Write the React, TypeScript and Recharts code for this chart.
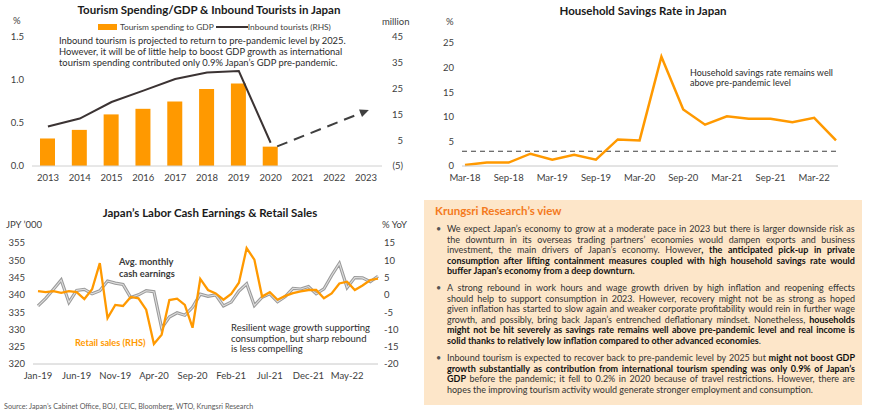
import React from 'react';
import { ComposedChart, LineChart, Bar, Line, XAxis, YAxis, ReferenceLine } from 'recharts';

const FONT = 'Lato, "Open Sans", sans-serif';
const ORANGE = '#ff9900';
const DARK_LINE = '#3b3333';
const TICK = '#404040';
const TEXT = '#2b2b2b';

// Tourism spending / GDP and inbound tourists
const YEARS = ['2013', '2014', '2015', '2016', '2017', '2018', '2019', '2020', '2021', '2022', '2023'];
const GDP_SHARE = [0.32, 0.42, 0.6, 0.665, 0.75, 0.895, 0.96, 0.225, null, null, null];
const INBOUND = [10.3, 13.4, 19.8, 24.2, 28.7, 31.2, 31.8, 4.0, null, null, null];
const OUTLOOK = [null, null, null, null, null, null, null, 1.6, null, null, 16.3];
const LEFT_TICKS_T = [0, 0.5, 1, 1.5];
const RIGHT_TICKS_T = [-5, 5, 15, 25, 35, 45];

// Household savings rate (quarterly)
const QUARTERS = ['Mar-18', 'Jun-18', 'Sep-18', 'Dec-18', 'Mar-19', 'Jun-19', 'Sep-19', 'Dec-19', 'Mar-20',
  'Jun-20', 'Sep-20', 'Dec-20', 'Mar-21', 'Jun-21', 'Sep-21', 'Dec-21', 'Mar-22', 'Jun-22'];
const SAVINGS = [0.2, 0.7, 0.7, 2.5, 1.3, 2.3, 1.3, 5.4, 5.2, 22.2, 11.5, 8.4, 10.1, 9.6, 9.6, 8.9, 9.8, 5.2];
const PRE_PANDEMIC = 3.0;
const SAVINGS_TICKS = [0, 5, 10, 15, 20, 25];

// Labor cash earnings and retail sales (monthly)
const MONTHS = ['Jan-19', 'Feb-19', 'Mar-19', 'Apr-19', 'May-19', 'Jun-19', 'Jul-19', 'Aug-19', 'Sep-19', 'Oct-19',
  'Nov-19', 'Dec-19', 'Jan-20', 'Feb-20', 'Mar-20', 'Apr-20', 'May-20', 'Jun-20', 'Jul-20', 'Aug-20', 'Sep-20',
  'Oct-20', 'Nov-20', 'Dec-20', 'Jan-21', 'Feb-21', 'Mar-21', 'Apr-21', 'May-21', 'Jun-21', 'Jul-21', 'Aug-21',
  'Sep-21', 'Oct-21', 'Nov-21', 'Dec-21', 'Jan-22', 'Feb-22', 'Mar-22', 'Apr-22', 'May-22', 'Jun-22', 'Jul-22',
  'Aug-22', 'Sep-22'];
const EARNINGS = [336.8, 339, 341.6, 344.3, 337.8, 341.3, 341.6, 340.3, 341.2, 344, 343.4, 343, 339.2, 340,
  341.2, 340.9, 330.4, 333.6, 334.8, 334.1, 336.4, 340.2, 339.6, 340, 336.8, 337.9, 341.1, 343.2, 336.9, 339.3,
  340.3, 338, 339.5, 341.9, 341.7, 342.4, 340.3, 341.7, 345.6, 349.1, 342.1, 345, 344.9, 343.8, 345.4];
const RETAIL = [1.1, 0.8, 1.1, 0.6, 1.1, 0.8, -1.2, 1.6, 9.2, -6.7, -2.9, -3.2, -0.6, -1.0, -4.3, -14.2, -11.5,
  -1.5, -1.1, -2.9, -9.5, 4.6, 1.4, 0.4, -1.4, 0.3, 3.5, 13.5, 10.2, -0.5, 0.8, -1.4, -0.3, 0.5, 1.0, 1.4, 1.4,
  -1.0, 0.4, 3.3, 3.8, 1.4, 2.7, 4.3, 4.7];
const EARN_TICKS = [320, 325, 330, 335, 340, 345, 350, 355];
const RETAIL_TICKS = [-20, -15, -10, -5, 0, 5, 10, 15];

const tourismData = YEARS.map((year, i) => ({
  year, gdp: GDP_SHARE[i], inbound: INBOUND[i], outlook: OUTLOOK[i],
}));
const savingsData = QUARTERS.map((q, i) => ({ q, rate: SAVINGS[i] }));
const laborData = MONTHS.map((m, i) => ({ m, earn: EARNINGS[i], retail: RETAIL[i] }));

type Seg = [string, boolean];
const VIEW: Seg[][][] = [
  [
    [["We expect Japan’s economy to grow at a moderate pace in 2023 but there is larger downside risk as", false]],
    [["the downturn in its overseas trading partners’ economies would dampen exports and business", false]],
    [["investment, the main drivers of Japan’s economy. However", false], [", the anticipated pick-up in private", true]],
    [["consumption after lifting containment measures coupled with high household savings rate would", true]],
    [["buffer Japan’s economy from a deep downturn.", true]],
  ],
  [
    [["A strong rebound in work hours and wage growth driven by high inflation and reopening effects", false]],
    [["should help to support consumption in 2023. However, recovery might not be as strong as hoped", false]],
    [["given inflation has started to slow again and weaker corporate profitability would rein in further wage", false]],
    [["growth, and possibly, bring back Japan’s entrenched deflationary mindset. Nonetheless, ", false], ["households", true]],
    [["might not be hit severely as savings rate remains well above pre-pandemic level and real income is", true]],
    [["solid thanks to relatively low inflation compared to other advanced economies", true], [".", false]],
  ],
  [
    [["Inbound tourism is expected to recover back to pre-pandemic level by 2025 but ", false], ["might not boost GDP", true]],
    [["growth substantially as contribution from international tourism spending was only 0.9% of Japan’s", true]],
    [["GDP", true], [" before the pandemic; it fell to 0.2% in 2020 because of travel restrictions. However, there are", false]],
    [["hopes the improving tourism activity would generate stronger employment and consumption.", false]],
  ],
];

function toWords(line: Seg[]): Seg[][] {
  const words: Seg[][] = [];
  let cur: Seg[] = [];
  line.forEach(([text, bold]) => {
    text.split(' ').forEach((p, i) => {
      if (i > 0) {
        if (cur.length) words.push(cur);
        cur = [];
      }
      if (p) cur.push([p, bold]);
    });
  });
  if (cur.length) words.push(cur);
  return words;
}

const tickStyle = { fill: TICK, fontSize: 9.5, fontFamily: FONT };

const TourRightTick = ({ x, y, payload }: any) => (
  <text x={x + 13} y={y} dy="0.35em" textAnchor="end" {...tickStyle}>
    {payload.value < 0 ? `(${-payload.value})` : payload.value}
  </text>
);

const ArrowDot = (props: any) => {
  const { cx, cy, index, points } = props;
  if (index !== YEARS.length - 1 || cx == null || cy == null) return <g key={`d${index}`} />;
  let a = -0.38;
  if (Array.isArray(points)) {
    const prev = points.slice(0, index).reverse().find((p: any) => p && p.y != null && p.value != null);
    if (prev) a = Math.atan2(cy - prev.y, cx - prev.x);
  }
  const c = Math.cos(a), s = Math.sin(a);
  const tx = cx + 3 * c, ty = cy + 3 * s;
  const bx = tx - 9 * c, by = ty - 9 * s;
  const px = -s * 4, py = c * 4;
  return (
    <polygon key={`d${index}`} points={`${tx},${ty} ${bx + px},${by + py} ${bx - px},${by - py}`} fill="#3f3f3f" />
  );
};

const Txt = ({ x, y, children, style }: any) => (
  <div style={{ position: 'absolute', left: x, top: y - 6, lineHeight: '12px', whiteSpace: 'nowrap', ...style }}>
    {children}
  </div>
);

const Title = ({ cx, y, children }: any) => (
  <div style={{ position: 'absolute', left: cx, top: y - 7, transform: 'translateX(-50%)', lineHeight: '14px',
    whiteSpace: 'nowrap', fontWeight: 700, fontSize: 11.5, color: '#1a1a1a' }}>
    {children}
  </div>
);

export default function App() {
  const note = { fontSize: 9, color: TEXT };
  return (
    <div style={{ position: 'absolute', left: 0, top: 0, width: 870, height: 416, background: '#fff',
      overflow: 'hidden', fontFamily: FONT }}>
      {/* Tourism chart */}
      <div style={{ position: 'absolute', left: 0, top: 0 }}>
        <ComposedChart width={430} height={185} data={tourismData} margin={{ top: 37, right: 0, bottom: 0, left: 0 }}>
          <XAxis dataKey="year" height={19} tickLine={false} axisLine={{ stroke: '#d0d0d0' }} tick={tickStyle} interval={0} />
          <YAxis yAxisId="l" width={32} domain={[0, 1.5]} ticks={LEFT_TICKS_T} interval={0}
            tickFormatter={(v: number) => v.toFixed(1)} axisLine={false} tickLine={false} tick={tickStyle} />
          <YAxis yAxisId="r" orientation="right" width={48} domain={[-5, 45]} ticks={RIGHT_TICKS_T} interval={0}
            axisLine={false} tickLine={false} tick={<TourRightTick />} />
          <Bar yAxisId="l" dataKey="gdp" fill={ORANGE} barSize={15} isAnimationActive={false} />
          <Line yAxisId="r" dataKey="inbound" stroke={DARK_LINE} strokeWidth={2} dot={false} isAnimationActive={false} />
          <Line yAxisId="r" dataKey="outlook" stroke="#3f3f3f" strokeWidth={2} strokeDasharray="11 7" strokeDashoffset={11}
            connectNulls dot={ArrowDot} legendType="none" isAnimationActive={false} />
        </ComposedChart>
      </div>
      <Title cx={209} y={10}>Tourism Spending/GDP &amp; Inbound Tourists in Japan</Title>
      <Txt x={13} y={21} style={{ fontSize: 9.5, color: TICK }}>%</Txt>
      <Txt x={382} y={22} style={{ fontSize: 9.5, color: TICK }}>million</Txt>
      <div style={{ position: 'absolute', left: 98, top: 21, height: 12, display: 'flex', alignItems: 'center',
        fontSize: 8.4, color: TICK, whiteSpace: 'nowrap' }}>
        <span style={{ width: 19, height: 6, background: ORANGE, marginRight: 3 }} />
        <span>Tourism spending to GDP</span>
        <span style={{ width: 32, height: 2, background: DARK_LINE, marginLeft: 2 }} />
        <span>Inbound tourists (RHS)</span>
      </div>
      <Txt x={59} y={41} style={{ fontSize: 9.4, color: TEXT }}>Inbound tourism is projected to return to pre-pandemic level by 2025.</Txt>
      <Txt x={59} y={52} style={{ fontSize: 9.4, color: TEXT }}>However, it will be of little help to boost GDP growth as international</Txt>
      <Txt x={59} y={63} style={{ fontSize: 9.4, color: TEXT }}>tourism spending contributed only 0.9% Japan’s GDP pre-pandemic.</Txt>

      {/* Household savings chart */}
      <div style={{ position: 'absolute', left: 430, top: 0 }}>
        <LineChart width={440} height={185} data={savingsData} margin={{ top: 43, right: 32, bottom: 0, left: 0 }}>
          <XAxis dataKey="q" height={19} tickLine={false} axisLine={{ stroke: '#c8c8c8' }} tick={tickStyle}
            interval={1} padding={{ left: 3, right: 2 }} />
          <YAxis width={32} domain={[0, 25]} ticks={SAVINGS_TICKS} interval={0}
            axisLine={false} tickLine={false} tick={tickStyle} />
          <ReferenceLine y={PRE_PANDEMIC} stroke="#404040" strokeWidth={1.2} strokeDasharray="5 4" />
          <Line dataKey="rate" stroke={ORANGE} strokeWidth={2.5} dot={false} isAnimationActive={false} />
        </LineChart>
      </div>
      <Title cx={643} y={11}>Household Savings Rate in Japan</Title>
      <Txt x={446} y={22} style={{ fontSize: 9.5, color: TICK }}>%</Txt>
      <Txt x={690} y={73} style={note}>Household savings rate remains well</Txt>
      <Txt x={690} y={83} style={note}>above pre-pandemic level</Txt>

      {/* Labor earnings chart */}
      <div style={{ position: 'absolute', left: 0, top: 200 }}>
        <LineChart width={430} height={183} data={laborData} margin={{ top: 43, right: 0, bottom: 0, left: 0 }}>
          <XAxis dataKey="m" height={19} tickLine={false} axisLine={{ stroke: '#c8c8c8' }} tick={tickStyle}
            interval={4} padding={{ left: 5, right: 0 }} />
          <YAxis yAxisId="l" width={33} domain={[320, 355]} ticks={EARN_TICKS} interval={0} axisLine={false}
            tickLine={false} tick={tickStyle} />
          <YAxis yAxisId="r" orientation="right" width={52} domain={[-20, 15]} ticks={RETAIL_TICKS} interval={0}
            axisLine={false} tickLine={false} tickSize={0} tickMargin={6} tick={tickStyle} />
          <Line yAxisId="l" dataKey="earn" stroke="#9a9a9a" strokeWidth={3.2} dot={false} isAnimationActive={false} />
          <Line yAxisId="l" dataKey="earn" stroke="#dedede" strokeWidth={1.1} dot={false} legendType="none" isAnimationActive={false} />
          <Line yAxisId="r" dataKey="retail" stroke={ORANGE} strokeWidth={2.3} dot={false} isAnimationActive={false} />
        </LineChart>
      </div>
      <Title cx={210} y={213}>Japan’s Labor Cash Earnings &amp; Retail Sales</Title>
      <Txt x={6} y={225} style={{ fontSize: 9.5, color: TICK }}>JPY ’000</Txt>
      <Txt x={382} y={225} style={{ fontSize: 9.5, color: TICK }}>% YoY</Txt>
      <Txt x={119} y={262} style={{ fontSize: 9.3, color: '#3a3a3a', fontWeight: 700 }}>Avg. monthly</Txt>
      <Txt x={119} y={274} style={{ fontSize: 9.3, color: '#3a3a3a', fontWeight: 700 }}>cash earnings</Txt>
      <Txt x={75} y={343} style={{ fontSize: 9.2, color: ORANGE, fontWeight: 700 }}>Retail sales (RHS)</Txt>
      <Txt x={231} y={328} style={{ fontSize: 9.5, color: TEXT }}>Resilient wage growth supporting</Txt>
      <Txt x={231} y={338.5} style={{ fontSize: 9.5, color: TEXT }}>consumption, but sharp rebound</Txt>
      <Txt x={231} y={349} style={{ fontSize: 9.5, color: TEXT }}>is less compelling</Txt>
      <Txt x={4} y={407} style={{ fontSize: 7.2, color: '#595959' }}>
        Source: Japan’s Cabinet Office, BOJ, CEIC, Bloomberg, WTO, Krungsri Research
      </Txt>

      {/* View box */}
      <div style={{ position: 'absolute', left: 424, top: 200, width: 438, height: 205, background: '#fde6c9' }} />
      <Txt x={435} y={211} style={{ fontSize: 11.5, color: '#f47a20', fontWeight: 700 }}>Krungsri Research’s view</Txt>
      <div style={{ position: 'absolute', left: 447, top: 224, width: 408, fontSize: 9, color: '#333' }}>
        {VIEW.map((para, pi) => (
          <div key={pi} style={{ position: 'relative', marginBottom: 6.8 }}>
            <span style={{ position: 'absolute', left: -11, top: 0, lineHeight: '10.5px', color: '#555' }}>•</span>
            {para.map((line, li) => {
              const last = li === para.length - 1;
              return (
                <div key={li} style={{ display: 'flex', justifyContent: last ? 'flex-start' : 'space-between',
                  columnGap: last ? '0.24em' : 0, height: 10.5, lineHeight: '10.5px', whiteSpace: 'nowrap' }}>
                  {toWords(line).map((w, wi) => (
                    <span key={wi} style={{ flexShrink: 0 }}>
                      {w.map(([t, b], si) => (
                        <span key={si} style={b ? { fontWeight: 700, color: '#111' } : undefined}>{t}</span>
                      ))}
                    </span>
                  ))}
                </div>
              );
            })}
          </div>
        ))}
      </div>
    </div>
  );
}
